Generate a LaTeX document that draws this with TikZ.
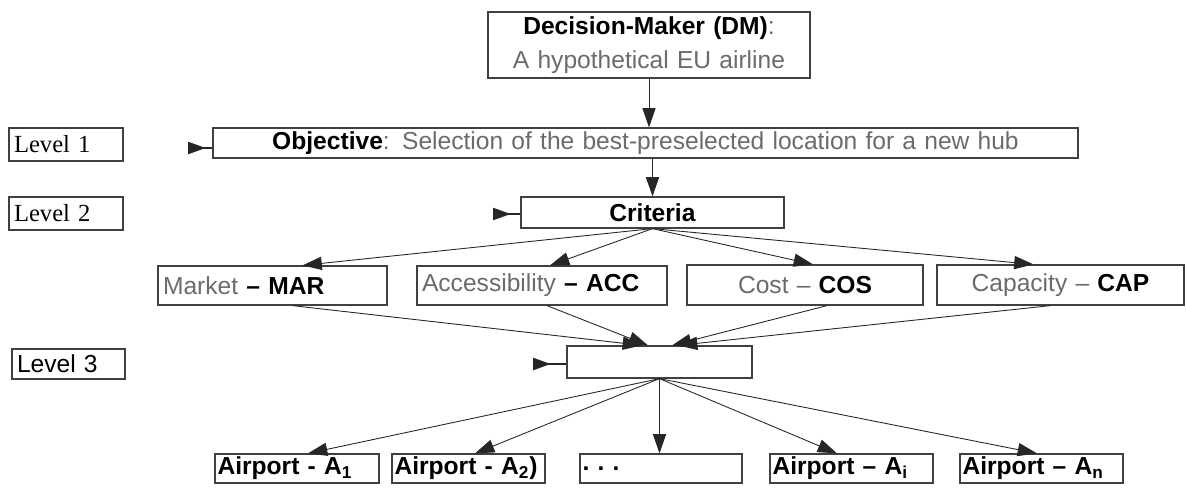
\documentclass[tikz,border=0pt]{standalone}
\usepackage{fontspec}
\setmainfont{Liberation Sans}
\newfontfamily\lvlserif{Liberation Serif}
\usetikzlibrary{arrows.meta}

\definecolor{txtgray}{gray}{0.42}

\tikzset{
  box/.style={draw=black!75, line width=0.7pt, inner xsep=0.1cm, inner ysep=0pt,
    font=\fontsize{14}{19}\selectfont},
  apbox/.style={box, inner xsep=0.05cm, align=left, font=\fontsize{14}{16}\selectfont\bfseries},
  arr/.style={draw=black!85, line width=0.5pt, -{Triangle[length=11pt,width=7.5pt]}},
  tickarr/.style={draw=black!85, line width=0.8pt, -{Triangle[length=10pt,width=7pt,reversed]}},
}

\begin{document}
\begin{tikzpicture}[x=0.02cm, y=-0.02cm]

  \useasboundingbox (0,0) rectangle (1186,488);

  % decision maker and objective
  \node[box, text width=6.24cm, minimum height=1.32cm, align=center] (dm) at (649,45)
    {\textbf{Decision-Maker (DM)}{\color{txtgray}:}\\ {\color{txtgray}A hypothetical EU airline}};
  \node[box, text width=17.1cm, minimum height=0.6cm, align=center] (obj) at (645.5,143)
    {\textbf{Objective}{\color{txtgray}: Selection of the best-preselected location for a new hub}};
  \node[box, text width=5.06cm, minimum height=0.62cm, align=center] (crit) at (652.5,212.5)
    {\textbf{Criteria}};

  % level labels
  \node[box, text width=2.08cm, minimum height=0.66cm, align=left] (lv1) at (66,144.5) {\lvlserif Level 1};
  \node[box, text width=2.08cm, minimum height=0.66cm, align=left] (lv2) at (66,213.5) {\lvlserif Level 2};
  \node[box, text width=2.06cm, minimum height=0.6cm, align=left] (lv3) at (68.5,364) {Level 3};

  % criteria
  \node[box, text width=4.38cm, minimum height=0.78cm, align=left] (mar) at (272.5,285.5)
    {{\color{txtgray}Market} \textbf{-- MAR}};
  \node[box, text width=4.8cm, minimum height=0.78cm, align=left] (acc) at (542,285.5)
    {{\color{txtgray}Accessibility} \textbf{-- ACC}};
  \node[box, text width=4.52cm, minimum height=0.8cm, align=center] (cos) at (805,285)
    {{\color{txtgray}Cost --} \textbf{COS}};
  \node[box, text width=4.74cm, minimum height=0.8cm, align=center] (cap) at (1060.5,285)
    {{\color{txtgray}Capacity --} \textbf{CAP}};

  \node[box, text width=3.5cm, minimum height=0.64cm] (sel) at (659.5,362) {};

  % alternatives
  \node[apbox, text width=3.18cm, minimum height=0.58cm] (a1) at (297,468.5) {Airport - A\textsubscript{1}};
  \node[apbox, text width=2.96cm, minimum height=0.58cm] (a2) at (468.5,468.5) {Airport - A\textsubscript{2})};
  \node[apbox, text width=3.14cm, minimum height=0.58cm] (dots) at (661,468.5) {.\,\,.\,\,.};
  \node[apbox, text width=3.16cm, minimum height=0.58cm] (ai) at (851.5,468.5) {Airport -- A\textsubscript{i}};
  \node[apbox, text width=3.16cm, minimum height=0.58cm] (an) at (1041.5,468.5) {Airport -- A\textsubscript{n}};

  % short marks left of the boxes
  \coordinate (t1) at (188,148);
  \coordinate (t2) at (493,214);
  \coordinate (t3) at (533,364);
  \draw[tickarr] (obj.west |- t1) -- (t1);
  \draw[tickarr] (crit.west |- t2) -- (t2);
  \draw[tickarr] (sel.west |- t3) -- (t3);

  \draw[arr] (dm.south) -- (obj.north -| dm.south);
  \draw[arr] (obj.south -| crit.north) -- (crit.north);

  \draw[arr] (crit.south) -- ([xshift=0.6cm]mar.north);
  \draw[arr] (crit.south) -- ([xshift=0.16cm]acc.north);
  \draw[arr] (crit.south) -- ([xshift=0.16cm]cos.north);
  \draw[arr] (crit.south) -- ([xshift=-0.54cm]cap.north);

  \draw[arr] ([xshift=0.4cm]mar.south) -- ([xshift=-0.35cm]sel.north);
  \draw[arr] ([xshift=0.1cm]acc.south) -- ([xshift=-0.23cm]sel.north);
  \draw[arr] ([xshift=0.44cm]cos.south) -- ([xshift=0.25cm]sel.north);
  \draw[arr] ([xshift=-0.2cm]cap.south) -- ([xshift=0.37cm]sel.north);

  \draw[arr] (sel.south) -- ([xshift=0.22cm]a1.north);
  \draw[arr] (sel.south) -- ([xshift=0.13cm]a2.north);
  \draw[arr] (sel.south) -- (dots.north -| sel.south);
  \draw[arr] (sel.south) -- ([xshift=-0.29cm]ai.north);
  \draw[arr] (sel.south) -- ([xshift=-0.09cm]an.north);

\end{tikzpicture}
\end{document}
